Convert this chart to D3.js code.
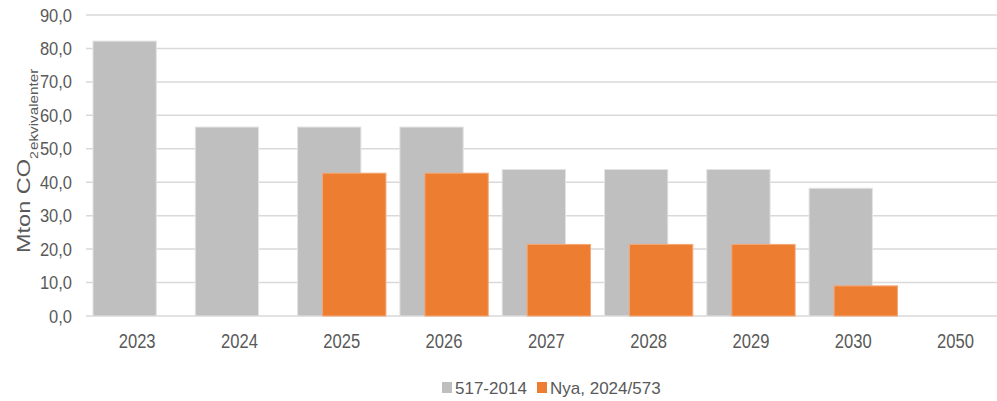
<!DOCTYPE html>
<html>
<head>
<meta charset="utf-8">
<script src="https://cdn.jsdelivr.net/npm/d3@7"></script>
<style>
  html, body { margin: 0; padding: 0; background: #fff; }
  svg { display: block; }
  text { font-family: "Liberation Sans", Arial, sans-serif; fill: #595959; }
</style>
</head>
<body>
<div id="chart"></div>
<script>
const years = ["2023", "2024", "2025", "2026", "2027", "2028", "2029", "2030", "2050"]
const oldValues = [82.2, 56.5, 56.5, 56.5, 43.8, 43.8, 43.8, 38.2, 0]
const newValues = [null, null, 42.7, 42.7, 21.4, 21.4, 21.4, 9.0, 0]
const yTicks = [0, 10, 20, 30, 40, 50, 60, 70, 80, 90]
const seriesNames = ["517-2014", "Nya, 2024/573"]
const seriesColors = ["#bfbfbf", "#ed7d31"]

const width = 997
const height = 401

const svg = d3.select("#chart")
    .append("svg")
    .attr("width", width)
    .attr("height", height)

const x = d3.scaleBand().domain(years).range([86, 1006.7])
const y = d3.scaleLinear().domain([0, 90]).range([316, 15])

const bw = x.bandwidth()
const barWidth = bw * 0.619
const offset = bw * 0.2445
const groupLeft = d => x(d) + (bw - barWidth - offset) / 2

// gridlines
svg.append("g")
    .selectAll("line")
    .data(yTicks)
    .enter()
    .append("line")
    .attr("x1", 86)
    .attr("x2", width)
    .attr("y1", d => y(d))
    .attr("y2", d => y(d))
    .style("stroke", "#d9d9d9")
    .style("stroke-width", 1.5)

// y tick labels
svg.append("g")
    .selectAll("text")
    .data(yTicks)
    .enter()
    .append("text")
    .attr("transform", d => `translate(72,${y(d)}) scale(1,1.13)`)
    .attr("dy", "0.35em")
    .attr("text-anchor", "end")
    .style("font-size", "16.5px")
    .text(d => d3.format(".1f")(d).replace(".", ","))

// bars: old series
svg.append("g")
    .selectAll("rect")
    .data(years.map((d, i) => ({year: d, value: oldValues[i]})).filter(d => d.value))
    .enter()
    .append("rect")
    .attr("x", d => groupLeft(d.year))
    .attr("width", barWidth)
    .attr("y", d => y(d.value))
    .attr("height", d => y(0) - y(d.value))
    .style("fill", seriesColors[0])
    .style("stroke", "#e3e3e3")
    .style("stroke-width", 1)

// bars: new series
svg.append("g")
    .selectAll("rect")
    .data(years.map((d, i) => ({year: d, value: newValues[i]})).filter(d => d.value))
    .enter()
    .append("rect")
    .attr("x", d => groupLeft(d.year) + offset)
    .attr("width", barWidth)
    .attr("y", d => y(d.value))
    .attr("height", d => y(0) - y(d.value))
    .style("fill", seriesColors[1])
    .style("stroke", "#f4a777")
    .style("stroke-width", 1)

// x labels
svg.append("g")
    .selectAll("text")
    .data(years)
    .enter()
    .append("text")
    .attr("transform", d => `translate(${x(d) + bw / 2},348) scale(1,1.25)`)
    .attr("text-anchor", "middle")
    .style("font-size", "16.6px")
    .text(d => d)

// y axis title
const title = svg.append("text")
    .attr("transform", "translate(30,253) scale(1,1.27) rotate(-90)")
    .style("font-size", "18.5px")
title.append("tspan").text("Mton CO")
title.append("tspan").attr("dy", 8).style("font-size", "11px").text("2")
title.append("tspan").attr("dx", 1).style("font-size", "12px").text("ekvivalenter")

// legend
const legendItems = [
    {name: seriesNames[0], color: seriesColors[0], x: 442},
    {name: seriesNames[1], color: seriesColors[1], x: 537}
]
const legend = svg.append("g")
legend.selectAll("rect")
    .data(legendItems)
    .enter()
    .append("rect")
    .attr("x", d => d.x)
    .attr("y", 382)
    .attr("width", 10)
    .attr("height", 11)
    .style("fill", d => d.color)
legend.selectAll("text")
    .data(legendItems)
    .enter()
    .append("text")
    .attr("x", d => d.x + 13)
    .attr("y", 393.5)
    .style("font-size", "17px")
    .text(d => d.name)
</script>
</body>
</html>
